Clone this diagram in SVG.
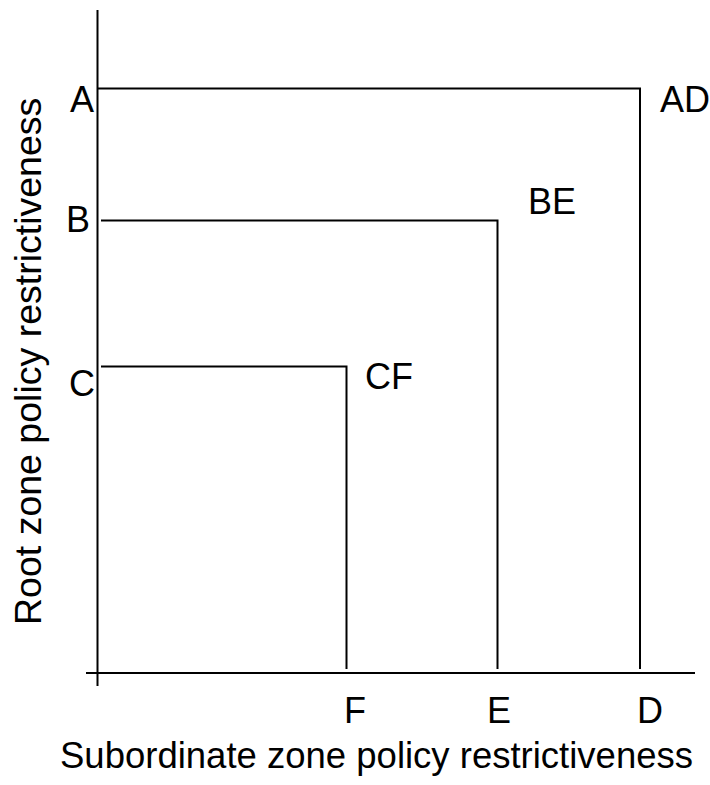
<svg xmlns="http://www.w3.org/2000/svg" width="710" height="785" viewBox="0 0 710 785">
<style>
.ln{stroke:#000;stroke-width:2;fill:none}
.t{font-family:"Liberation Sans",Arial,sans-serif;font-size:36px;fill:#000}
</style>
<rect width="710" height="785" fill="#fff"/>
<g id="axes">
<line class="ln" x1="97.5" y1="10" x2="97.5" y2="686"/>
<line class="ln" x1="86" y1="673" x2="695" y2="673"/>
</g>
<g id="connectors">
<polyline class="ln" points="98,88.5 640,88.5 640,669"/>
<polyline class="ln" points="101,220.5 497.5,220.5 497.5,669"/>
<polyline class="ln" points="101,366.5 346.5,366.5 346.5,669"/>
</g>
<g id="labels">
<text class="t" x="70" y="112">A</text>
<text class="t" x="66" y="232">B</text>
<text class="t" x="69" y="396">C</text>
<text class="t" x="660" y="112">AD</text>
<text class="t" x="528" y="214">BE</text>
<text class="t" x="365" y="389">CF</text>
<text class="t" x="344" y="723">F</text>
<text class="t" x="487" y="723">E</text>
<text class="t" x="637" y="723">D</text>
<text class="t" x="60" y="768" style="font-size:36.5px">Subordinate zone policy restrictiveness</text>
<text class="t" transform="translate(41,625) rotate(-90)" style="font-size:37.5px">Root zone policy restrictiveness</text>
</g>
</svg>
